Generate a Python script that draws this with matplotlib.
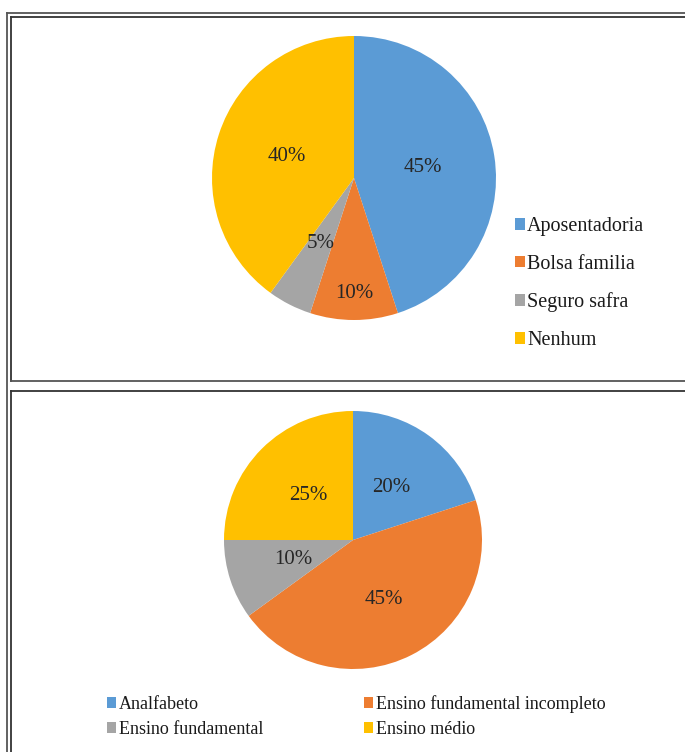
import matplotlib
matplotlib.use('Agg')
import matplotlib.pyplot as plt
import numpy as np
from matplotlib.patches import Patch
from matplotlib.lines import Line2D

plt.rcParams['font.family'] = ['Liberation Serif', 'DejaVu Serif']

# top chart: income source
renda_labels = ['Aposentadoria', 'Bolsa familia', 'Seguro safra', 'Nenhum']
renda_values = [45, 10, 5, 40]
renda_pctdist = [0.49, 0.81, 0.52, 0.50]

# bottom chart: schooling
escola_labels = ['Analfabeto', 'Ensino fundamental incompleto',
                 'Ensino fundamental', 'Ensino médio']
escola_values = [20, 45, 10, 25]
escola_pctdist = [0.50, 0.52, 0.49, 0.49]

colors = ['#5B9BD5', '#ED7D31', '#A5A5A5', '#FFC000']
txt_color = '#262626'

W, H = 685, 752
fig = plt.figure(figsize=(W / 100, H / 100), dpi=100)


def px_axes(cx, cy, r):
    # axes box in pixel coords (origin top-left)
    return fig.add_axes([(cx - r) / W, 1 - (cy + r) / H, 2 * r / W, 2 * r / H])


def draw_pie(ax, values, dists):
    wedges, _ = ax.pie(values, colors=colors, startangle=90, counterclock=False,
                       radius=1, wedgeprops=dict(linewidth=0))
    for w, v, d in zip(wedges, values, dists):
        ang = np.deg2rad((w.theta1 + w.theta2) / 2)
        ax.text(d * np.cos(ang), d * np.sin(ang), '%d%%' % v,
                ha='center', va='center', fontsize=15, color=txt_color)
    ax.set_xlim(-1, 1)
    ax.set_ylim(-1, 1)
    ax.set_aspect('equal')
    ax.axis('off')
    return wedges


ax1 = px_axes(354, 178, 142)
draw_pie(ax1, renda_values, renda_pctdist)

ax2 = px_axes(353, 540, 129)
draw_pie(ax2, escola_values, escola_pctdist)

# legends
h1 = [Patch(facecolor=c, edgecolor='none') for c in colors]
fig.legend(h1, renda_labels, loc='upper left',
           bbox_to_anchor=(515 / W, 1 - 217 / H), frameon=False,
           fontsize=14.5, handlelength=0.5, handleheight=0.5,
           handletextpad=0.1, labelspacing=0.93, borderpad=0, borderaxespad=0,
           labelcolor='#1a1a1a')

order = [0, 2, 1, 3]
h2 = [Patch(facecolor=colors[i], edgecolor='none') for i in order]
fig.legend(h2, [escola_labels[i] for i in order], loc='upper left', ncol=2,
           bbox_to_anchor=(107 / W, 1 - 695 / H), frameon=False,
           fontsize=13, handlelength=0.5, handleheight=0.5,
           handletextpad=0.15, labelspacing=0.45, columnspacing=5.6,
           borderpad=0, borderaxespad=0, labelcolor='#1a1a1a')


# table borders around the two charts
def hline(y, x0, x1, c='#444444', lw=1.3):
    fig.add_artist(Line2D([x0 / W, x1 / W], [1 - y / H, 1 - y / H],
                          color=c, lw=lw, transform=fig.transFigure))


def vline(x, y0, y1, c='#444444', lw=1.3):
    fig.add_artist(Line2D([x / W, x / W], [1 - y0 / H, 1 - y1 / H],
                          color=c, lw=lw, transform=fig.transFigure))


hline(13, 7, W, c='#555555')
vline(7, 13, H, c='#555555')
hline(16.5, 10.5, W, c='#333333')
vline(10.5, 16.5, 381, c='#333333')
hline(381, 10.5, W, c='#555555')
hline(391, 10.5, W, c='#333333')
vline(10.5, 391, H, c='#333333')

fig.savefig('out.png', dpi=100)
